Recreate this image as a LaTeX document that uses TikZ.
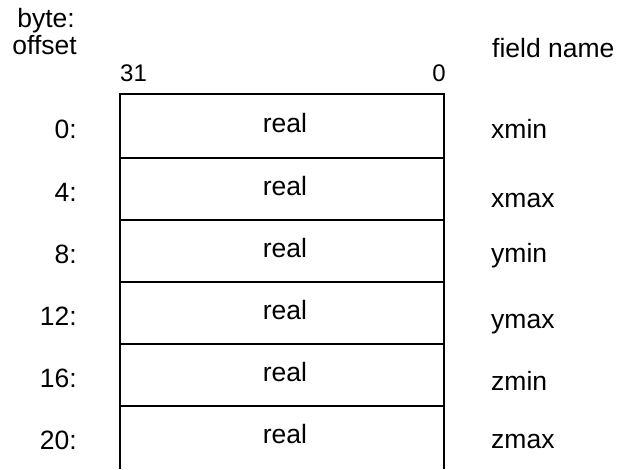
\documentclass[tikz,border=0pt]{standalone}
\usepackage{fontspec}
\setmainfont{Liberation Sans}
\begin{document}
\begin{tikzpicture}[x=1pt,y=-1pt,
  txt/.style={inner sep=0pt,font=\fontsize{26.5}{30}\selectfont},
  hdr/.style={inner sep=0pt,font=\fontsize{24}{28}\selectfont},
  row/.style={draw=none,minimum width=324pt,inner sep=0pt,outer sep=0pt},
  frame/.style={line width=1.6pt}]
\useasboundingbox (0,0) rectangle (629,469);
% header labels
\node[txt,anchor=base east] (byte) at (75,27) {byte:};
\node[txt,anchor=base east] (offs) at (77,54) {offset};
\node[hdr,anchor=base west] (hi) at (120,81) {31};
\node[hdr,anchor=base east] (lo) at (446,81) {0};
\node[txt,anchor=base west] (fname) at (492,57) {field name};
% the six 4-byte slots
\node[row,minimum height=64pt] (r1) at (282,126) {};
\node[row,minimum height=62pt] (r2) at (282,189) {};
\node[row,minimum height=62pt] (r3) at (282,251) {};
\node[row,minimum height=62pt] (r4) at (282,313) {};
\node[row,minimum height=62pt] (r5) at (282,375) {};
\node[row,minimum height=63pt] (r6) at (282,437.5) {};
% outline and separators (bottom slot stays open)
\draw[frame] (r6.south west) -- (r1.north west) -- (r1.north east) -- (r6.south east);
\foreach \a/\b in {r1/r2,r2/r3,r3/r4,r4/r5,r5/r6}
  \draw[frame] (\a.south west) -- (\a.south east);
% contents, offsets and field names
\foreach \r/\y/\off/\fy/\name in {r1/132/0/138/xmin, r2/195/4/207/xmax, r3/257/8/262/ymin,
                                 r4/319/12/328/ymax, r5/381/16/390/zmin, r6/443/20/448/zmax}{
  \node[txt,anchor=base] (t\r) at (285,\y) {real};
  \node[txt,anchor=base east] (o\r) at (77,\y+6) {\off:};
  \node[txt,anchor=base west] (f\r) at (491,\fy) {\name};
}
\end{tikzpicture}
\end{document}
